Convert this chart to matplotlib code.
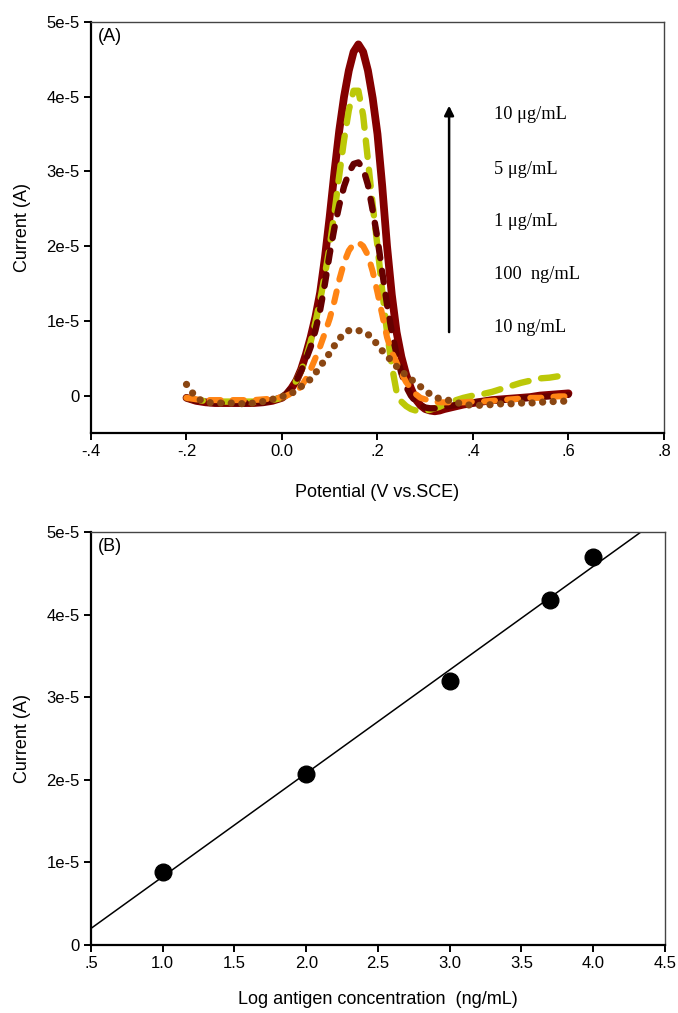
import numpy as np
import matplotlib
matplotlib.use("Agg")
import matplotlib.pyplot as plt

# ============================================================
# DATA
# ============================================================

# Potential grid (V vs. SCE): coarse on the baseline, fine across the peak
potential = np.array(
    [-0.20, -0.18, -0.16, -0.14, -0.12, -0.10, -0.08, -0.06, -0.04, -0.02, 0.00,
     0.01, 0.02, 0.03, 0.04, 0.05, 0.06, 0.07, 0.08, 0.09, 0.10,
     0.11, 0.12, 0.13, 0.14, 0.15, 0.16, 0.17, 0.18, 0.19, 0.20,
     0.21, 0.22, 0.23, 0.24, 0.25, 0.26, 0.27, 0.28, 0.29, 0.30,
     0.31, 0.32, 0.33, 0.34,
     0.36, 0.38, 0.40, 0.42, 0.44, 0.46, 0.48, 0.50, 0.52, 0.54, 0.56, 0.58, 0.60]
)

# DPV currents, in units of 1e-5 A
i_10ug = [-0.03, -0.07, -0.09, -0.10, -0.10, -0.10, -0.10, -0.10, -0.09, -0.07, -0.03,
          0.02, 0.10, 0.20, 0.35, 0.55, 0.78, 1.05, 1.38, 1.85, 2.40,
          3.00, 3.55, 4.00, 4.35, 4.60, 4.70, 4.60, 4.35, 3.98, 3.50,
          2.80, 2.00, 1.35, 0.85, 0.52, 0.28, 0.10, -0.05, -0.13, -0.18,
          -0.20, -0.21, -0.20, -0.18,
          -0.15, -0.12, -0.10, -0.08, -0.06, -0.05, -0.04, -0.03, -0.02, 0.00, 0.01, 0.02, 0.03]

i_5ug = [-0.03, -0.06, -0.07, -0.08, -0.08, -0.08, -0.08, -0.08, -0.07, -0.06, -0.03,
         0.02, 0.10, 0.20, 0.33, 0.50, 0.72, 0.98, 1.28, 1.62, 2.00,
         2.45, 2.95, 3.42, 3.82, 4.08, 4.08, 3.75, 3.15, 2.55, 2.00,
         1.40, 0.85, 0.40, 0.05, -0.08, -0.14, -0.18, -0.20, -0.20, -0.20,
         -0.19, -0.17, -0.15, -0.12,
         -0.07, -0.03, 0.00, 0.02, 0.05, 0.09, 0.13, 0.17, 0.20, 0.23, 0.24, 0.26, 0.28]

i_1ug = [-0.03, -0.07, -0.09, -0.10, -0.10, -0.10, -0.10, -0.10, -0.09, -0.07, -0.03,
         0.03, 0.10, 0.20, 0.33, 0.48, 0.65, 0.87, 1.15, 1.50, 1.90,
         2.25, 2.55, 2.80, 2.98, 3.10, 3.12, 3.04, 2.82, 2.48, 2.10,
         1.65, 1.22, 0.85, 0.55, 0.30, 0.12, 0.00, -0.08, -0.13, -0.16,
         -0.17, -0.17, -0.16, -0.15,
         -0.13, -0.11, -0.09, -0.08, -0.07, -0.06, -0.05, -0.04, -0.03, -0.02, -0.01, 0.00, 0.01]

i_100ng = [-0.03, -0.05, -0.06, -0.06, -0.06, -0.06, -0.06, -0.06, -0.05, -0.04, -0.02,
           0.00, 0.03, 0.06, 0.12, 0.22, 0.35, 0.50, 0.66, 0.84, 1.03,
           1.27, 1.55, 1.78, 1.94, 2.03, 2.05, 2.00, 1.88, 1.66, 1.38,
           1.08, 0.78, 0.58, 0.44, 0.30, 0.18, 0.10, 0.02, -0.03, -0.05,
           -0.07, -0.08, -0.09, -0.09,
           -0.09, -0.09, -0.08, -0.08, -0.07, -0.06, -0.05, -0.04, -0.03, -0.03, -0.02, -0.01, -0.01]

i_10ng = [0.15, -0.03, -0.09, -0.10, -0.10, -0.10, -0.11, -0.10, -0.08, -0.05, -0.01,
          0.00, 0.03, 0.07, 0.12, 0.17, 0.22, 0.30, 0.39, 0.48, 0.57,
          0.67, 0.76, 0.83, 0.87, 0.88, 0.87, 0.86, 0.82, 0.76, 0.68,
          0.60, 0.53, 0.46, 0.39, 0.33, 0.27, 0.22, 0.17, 0.12, 0.07,
          0.02, -0.02, -0.04, -0.05,
          -0.08, -0.12, -0.13, -0.13, -0.12, -0.11, -0.11, -0.10, -0.10, -0.09, -0.08, -0.08, -0.07]

conc_labels = ["10 μg/mL", "5 μg/mL", "1 μg/mL", "100  ng/mL", "10 ng/mL"]

# Calibration: log concentration vs. peak current (1e-5 A)
log_conc = np.array([1.0, 2.0, 3.0, 3.7, 4.0])
peak_current = np.array([0.88, 2.07, 3.20, 4.18, 4.70])

# ============================================================
# STYLE
# ============================================================

SANS = "Liberation Sans"
SERIF = "Liberation Serif"
plt.rcParams["font.family"] = SANS

SCALE = 1e-5


def style_axes(ax):
    for side in ("left", "bottom"):
        ax.spines[side].set_linewidth(1.6)
        ax.spines[side].set_color("black")
    for side in ("top", "right"):
        ax.spines[side].set_linewidth(1.0)
        ax.spines[side].set_color("#444444")
    ax.tick_params(direction="out", length=5, width=1.4, labelsize=12, pad=3,
                   top=False, right=False)


fig = plt.figure(figsize=(6.78, 10.13), dpi=100)

# ------------------------------------------------------------
# (A) DPV curves
# ------------------------------------------------------------

ax1 = fig.add_axes([0.1342, 0.5726, 0.8451, 0.4057])

curves = [
    (i_10ug, dict(color="#840000", lw=5.6, ls="-", solid_capstyle="round",
                  solid_joinstyle="round")),
    (i_5ug, dict(color="#bcc808", lw=4.6, dashes=(2.6, 2.0), dash_capstyle="round")),
    (i_1ug, dict(color="#660000", lw=4.6, dashes=(1.8, 2.0), dash_capstyle="round")),
    (i_100ng, dict(color="#ff8414", lw=4.4, dashes=(1.8, 2.0), dash_capstyle="round")),
    (i_10ng, dict(color="#8a4612", lw=5.2, dashes=(0.01, 1.45), dash_capstyle="round")),
]

for values, kw in curves:
    ax1.plot(potential, np.array(values) * SCALE, **kw)

ax1.set_xlim(-0.4, 0.8)
ax1.set_ylim(-0.5e-5, 5e-5)
ax1.set_xticks([-0.4, -0.2, 0.0, 0.2, 0.4, 0.6, 0.8])
ax1.set_xticklabels(["-.4", "-.2", "0.0", ".2", ".4", ".6", ".8"])
ax1.set_yticks([0, 1e-5, 2e-5, 3e-5, 4e-5, 5e-5])
ax1.set_yticklabels(["0", "1e-5", "2e-5", "3e-5", "4e-5", "5e-5"])
style_axes(ax1)

ax1.set_xlabel("Potential (V vs.SCE)", fontsize=13, labelpad=18)
ax1.set_ylabel("Current (A)", fontsize=13, labelpad=11)
ax1.text(0.012, 0.985, "(A)", transform=ax1.transAxes, fontsize=13,
         ha="left", va="top")

# concentration arrow and labels
ax1.annotate("", xy=(0.35, 3.88e-5), xytext=(0.35, 0.85e-5),
             arrowprops=dict(arrowstyle="-|>", color="black", lw=1.8,
                             mutation_scale=14, shrinkA=0, shrinkB=0))
label_y = [3.76e-5, 3.02e-5, 2.33e-5, 1.62e-5, 0.91e-5]
for text, y in zip(conc_labels, label_y):
    ax1.text(0.443, y, text, family=SERIF, fontsize=13.2, ha="left",
             va="center", color="black")

# ------------------------------------------------------------
# (B) calibration plot
# ------------------------------------------------------------

ax2 = fig.add_axes([0.1342, 0.0671, 0.8466, 0.4077])

slope, intercept = np.polyfit(log_conc, peak_current, 1)
x_fit = np.array([0.5, 4.5])
ax2.plot(x_fit, (slope * x_fit + intercept) * SCALE, color="black", lw=1.1)
ax2.plot(log_conc, peak_current * SCALE, "o", color="black", markersize=12)

ax2.set_xlim(0.5, 4.5)
ax2.set_ylim(0, 5e-5)
ax2.set_xticks([0.5, 1.0, 1.5, 2.0, 2.5, 3.0, 3.5, 4.0, 4.5])
ax2.set_xticklabels([".5", "1.0", "1.5", "2.0", "2.5", "3.0", "3.5", "4.0", "4.5"])
ax2.set_yticks([0, 1e-5, 2e-5, 3e-5, 4e-5, 5e-5])
ax2.set_yticklabels(["0", "1e-5", "2e-5", "3e-5", "4e-5", "5e-5"])
style_axes(ax2)

ax2.set_xlabel("Log antigen concentration  (ng/mL)", fontsize=13, labelpad=14)
ax2.set_ylabel("Current (A)", fontsize=13, labelpad=11)
ax2.text(0.012, 0.985, "(B)", transform=ax2.transAxes, fontsize=13,
         ha="left", va="top")

fig.savefig("out.png", dpi=100)
